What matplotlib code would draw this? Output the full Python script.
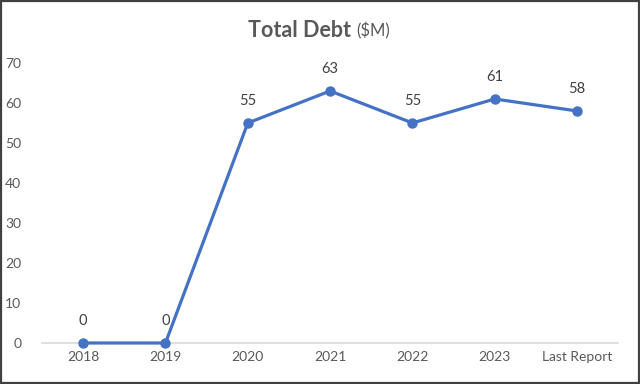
import matplotlib.pyplot as plt
from matplotlib.patches import Rectangle

# data
categories = ["2018", "2019", "2020", "2021", "2022", "2023", "Last Report"]
debt = [0, 0, 55, 63, 55, 61, 58]
yticks = [0, 10, 20, 30, 40, 50, 60, 70]

plt.rcParams['font.family'] = ['Lato', 'DejaVu Sans']
txt = '#595959'

fig = plt.figure(figsize=(6.4, 3.84), dpi=100)
ax = fig.add_axes([0.0656, 0.1068, 0.9004, 0.7292])

x = list(range(len(categories)))
ax.plot(x, debt, color='#4472C4', lw=2.3, marker='o', ms=6.5, clip_on=False, zorder=3)
for xi, v in zip(x, debt):
    ax.annotate(str(v), (xi, v), xytext=(0, 11), textcoords='offset points',
                ha='center', va='bottom', fontsize=10.5, color='#404040')

ax.set_xlim(-0.5, len(categories) - 0.5)
ax.set_ylim(0, 70)
ax.set_yticks(yticks)
ax.set_xticks(x)
ax.set_xticklabels(categories)
ax.tick_params(length=0, labelsize=10, colors=txt)
ax.tick_params(axis='y', pad=15)
ax.tick_params(axis='x', pad=6)
for s in ['top', 'right', 'left']:
    ax.spines[s].set_visible(False)
ax.spines['bottom'].set_color('#d9d9d9')
ax.spines['bottom'].set_linewidth(1.2)

fig.text(0.548, 0.92, "Total Debt", ha='right', va='center', fontsize=15.5,
         fontweight='bold', color=txt)
fig.text(0.556, 0.92, "($M)", ha='left', va='center', fontsize=12, color=txt)

fig.patches.append(Rectangle((0.002, 0.003), 0.996, 0.994, transform=fig.transFigure,
                             fill=False, ec='#404040', lw=1.6))

fig.savefig('out.png', dpi=100)
